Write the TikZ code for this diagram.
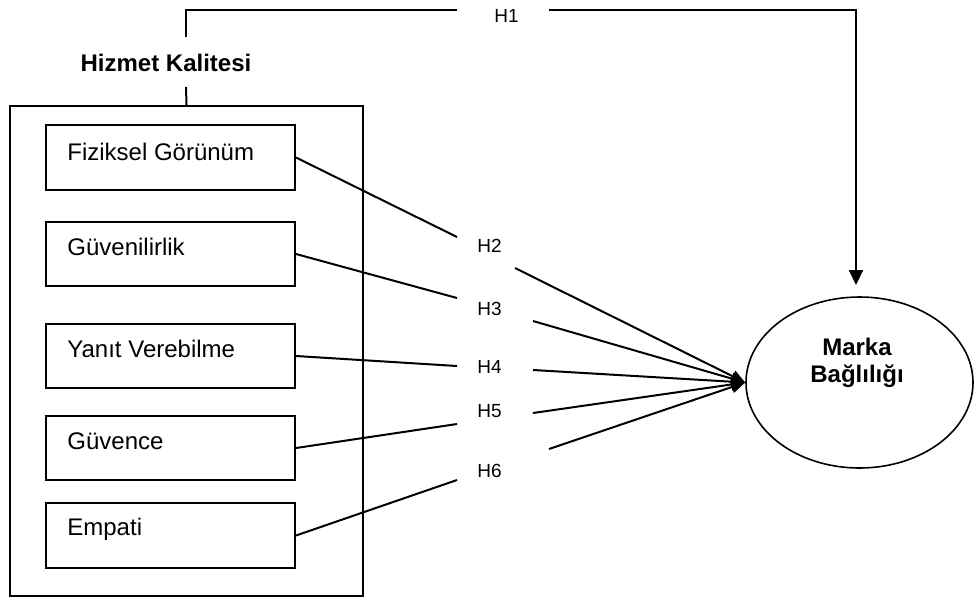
\documentclass[tikz,border=0pt]{standalone}
\usepackage{fontspec}
\setmainfont{Liberation Sans}
\usetikzlibrary{shapes.geometric,arrows.meta}
\begin{document}
\begin{tikzpicture}[x=0.5pt,y=-0.5pt,
  boxtxt/.style={anchor=base west,inner sep=0pt,font=\fontsize{12}{13.8}\selectfont},
  hlab/.style={anchor=base west,inner sep=0pt,font=\fontsize{9.5}{11}\selectfont},
  inbox/.style={draw,line width=1pt,minimum width=124.5pt,minimum height=32.5pt,inner sep=0pt},
  conn/.style={line width=1pt},
  tip/.style={-{Triangle[length=7pt,width=6pt]}},
]
\useasboundingbox (0,0) rectangle (975,601);
% outer frame
\node[draw,line width=1pt,minimum width=176.5pt,minimum height=245pt,inner sep=0pt] (outer) at (186.5,351) {};
% inner boxes
\node[inbox] (b1) at (170.5,157.5) {};
\node[inbox,minimum height=32pt] (b2) at (170.5,254) {};
\node[inbox,minimum height=32pt] (b3) at (170.5,356) {};
\node[inbox,minimum height=32pt] (b4) at (170.5,448) {};
\node[inbox] (b5) at (170.5,535.5) {};
\node[boxtxt] (t1) at (67,160) {Fiziksel Görünüm};
\node[boxtxt] (t2) at (67,255) {Güvenilirlik};
\node[boxtxt] (t3) at (67,357) {Yanıt Verebilme};
\node[boxtxt] (t4) at (67,449) {Güvence};
\node[boxtxt] (t5) at (67,535) {Empati};
% title
\node[anchor=base,inner sep=0pt,font=\bfseries\fontsize{12}{13.8}\selectfont] (hk) at (166,71) {Hizmet Kalitesi};
% ellipse
\node[draw,ellipse,line width=0.8pt,minimum width=113.5pt,minimum height=85.5pt,inner sep=0pt] (mb) at (859.5,382.5) {};
\node[anchor=base,inner sep=0pt,font=\bfseries\fontsize{12}{13.8}\selectfont,align=center] (mbt) at (857,355) {Marka};
\node[anchor=base,inner sep=0pt,font=\bfseries\fontsize{12}{13.8}\selectfont] (mbt2) at (857,382) {Bağlılığı};
% H labels
\node[hlab] (h1) at (494,22) {H1};
\node[hlab] (h2) at (477,252) {H2};
\node[hlab] (h3) at (477,315) {H3};
\node[hlab] (h4) at (477,373) {H4};
\node[hlab] (h5) at (477,417) {H5};
\node[hlab] (h6) at (477,477) {H6};
% coordinates
\coordinate (up1) at (186,37);
\coordinate (up2) at (186,87);
\coordinate (e1) at (457,10);
\coordinate (s1) at (549,10);
\coordinate (k1) at (856,10);
\coordinate (top) at (856,285);
\coordinate (e2) at (457,237);
\coordinate (s2) at (515,268);
\coordinate (e3) at (457,298);
\coordinate (s3) at (533,321);
\coordinate (e4) at (457,366);
\coordinate (s4) at (533,370);
\coordinate (e5) at (457,424);
\coordinate (s5) at (533,413);
\coordinate (e6) at (457,480);
\coordinate (s6) at (549,449);
% H1 path
\draw[conn] (up1) -- (186,10) -- (e1);
\draw[conn] (up2) -- (outer.north);
\draw[conn,-{Triangle[length=7.5pt,width=7pt]}] (s1) -- (k1) -- (top);
% H2-H6
\draw[conn] (b1.east) -- (e2);
\draw[conn] (b2.east) -- (e3);
\draw[conn] (b3.east) -- (e4);
\draw[conn] (b4.east) -- (e5);
\draw[conn] (b5.east) -- (e6);
\draw[conn,tip] (s2) -- (mb.west);
\draw[conn,tip] (s3) -- (mb.west);
\draw[conn,tip] (s4) -- (mb.west);
\draw[conn,tip] (s5) -- (mb.west);
\draw[conn,tip] (s6) -- (mb.west);
\end{tikzpicture}
\end{document}
